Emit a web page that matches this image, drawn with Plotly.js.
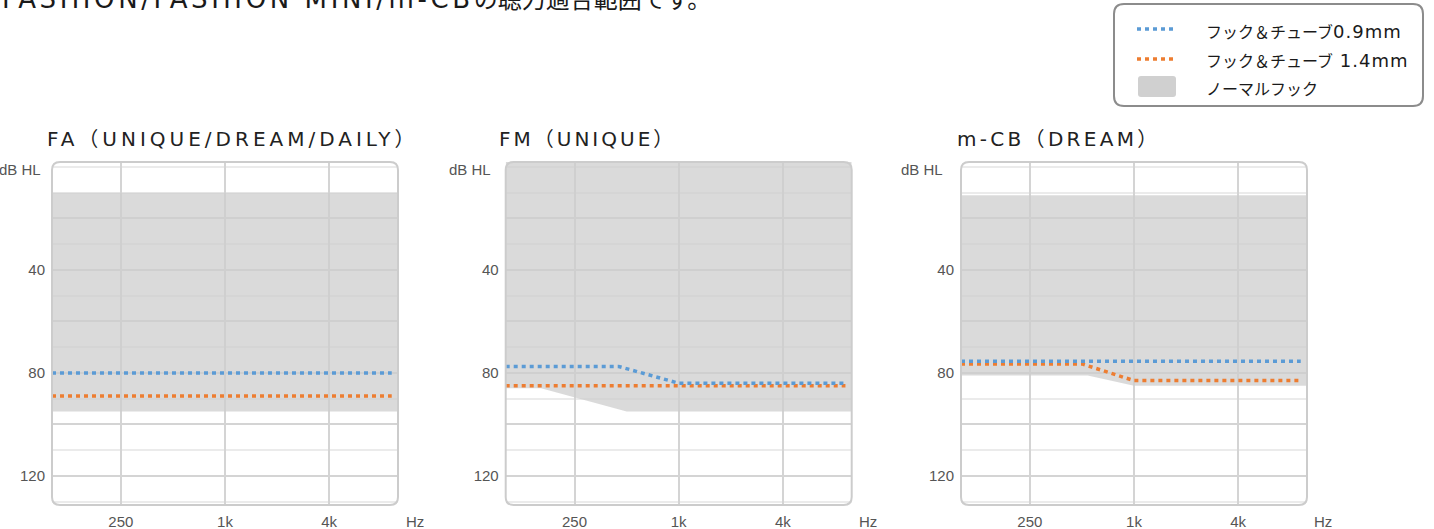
<!DOCTYPE html>
<html><head><meta charset="utf-8">
<script src="https://cdn.plot.ly/plotly-3.0.1.min.js"></script>
<style>html,body{margin:0;padding:0;background:#fff;overflow:hidden}#chart{width:1434px;height:529px}</style>
</head><body><div id="chart"></div>
<script>
// ---------------- data ----------------
const headline = 'FASHION/FASHION MINI/m-CBの聴力適合範囲です。';
const panelTitles = ['FA（UNIQUE/DREAM/DAILY）', 'FM（UNIQUE）', 'm-CB（DREAM）'];
const seriesNames = ['フック＆チューブ0.9mm', 'フック＆チューブ 1.4mm'];
const areaName = 'ノーマルフック';
const yAxisUnit = 'dB HL';
const xAxisUnit = 'Hz';
const freqTickVals = [250, 1000, 4000];
const freqTickText = ['250', '1k', '4k'];
const dbTickVals = [20, 40, 60, 80, 100, 120];
const dbTickText = ['', '40', '', '80', '', '120'];

// FA (UNIQUE/DREAM/DAILY)
const faTube09Freq = [100, 9200];
const faTube09 = [80, 80];
const faTube14Freq = [100, 9200];
const faTube14 = [89, 89];
const faAreaFreq = [100, 10000];
const faAreaTop = [10, 10];
const faAreaBottom = [95, 95];

// FM (UNIQUE)
const fmTube09Freq = [100, 450, 1000, 9200];
const fmTube09 = [77.5, 77.5, 84, 84];
const fmTube14Freq = [100, 9200];
const fmTube14 = [85, 85];
const fmAreaFreq = [100, 160, 500, 10000];
const fmAreaTop = [-5, -5, -5, -5];
const fmAreaBottom = [86, 86, 95, 95];

// m-CB (DREAM)
const mcbTube09Freq = [100, 9200];
const mcbTube09 = [75.5, 75.5];
const mcbTube14Freq = [100, 500, 1000, 9200];
const mcbTube14 = [76.5, 76.5, 83, 83];
const mcbAreaFreq = [100, 540, 1000, 10000];
const mcbAreaTop = [11, 11, 11, 11];
const mcbAreaBottom = [81, 81, 85, 85];

// ---------------- styles / layout helpers ----------------
const W = 1434, H = 529;
const px = x => x / W;
const py = y => 1 - y / H;
const BLUE = '#5b9bd5', ORANGE = '#ed7d31';
const AREA = 'rgba(205,205,205,0.75)';
const CJK = '"DejaVu Sans", "Noto Sans CJK JP", sans-serif';
const TICKFONT = {family: '"Liberation Sans", Arial, sans-serif', size: 15, color: '#555555'};
const DOT = '4px,4px';

const boxes = [[52, 398], [505.7, 851.7], [961, 1307]];
const plotTop = 162, plotBottom = 505;

function styleLatin(s, size, ls) {
  return s.replace(/[ -~]+/g, m => `<span style="font-size:${size}px;letter-spacing:${ls}px">${m}</span>`);
}
function roundRect(x0, y0, x1, y1, r) {
  const P = (x, y) => px(x) + ',' + py(y);
  return 'M' + P(x0 + r, y0) + ' L' + P(x1 - r, y0) + ' Q' + P(x1, y0) + ' ' + P(x1, y0 + r) +
    ' L' + P(x1, y1 - r) + ' Q' + P(x1, y1) + ' ' + P(x1 - r, y1) +
    ' L' + P(x0 + r, y1) + ' Q' + P(x0, y1) + ' ' + P(x0, y1 - r) +
    ' L' + P(x0, y0 + r) + ' Q' + P(x0, y0) + ' ' + P(x0 + r, y0) + ' Z';
}

const panels = [
  {area: [faAreaFreq, faAreaTop, faAreaBottom], t09: [faTube09Freq, faTube09], t14: [faTube14Freq, faTube14]},
  {area: [fmAreaFreq, fmAreaTop, fmAreaBottom], t09: [fmTube09Freq, fmTube09], t14: [fmTube14Freq, fmTube14]},
  {area: [mcbAreaFreq, mcbAreaTop, mcbAreaBottom], t09: [mcbTube09Freq, mcbTube09], t14: [mcbTube14Freq, mcbTube14]}
];

const traces = [];
const layout = {
  width: W, height: H, autosize: false,
  margin: {l: 0, r: 0, t: 0, b: 0, pad: 0},
  paper_bgcolor: '#ffffff', plot_bgcolor: '#ffffff',
  showlegend: false,
  shapes: [], annotations: []
};

panels.forEach((p, i) => {
  const sfx = i === 0 ? '' : String(i + 1);
  const xa = 'x' + sfx, ya = 'y' + sfx;
  const [af, at, ab] = p.area;
  traces.push({
    x: af.concat(af.slice().reverse()),
    y: at.concat(ab.slice().reverse()),
    xaxis: xa, yaxis: ya, mode: 'lines', fill: 'toself',
    fillcolor: AREA, line: {width: 0}, hoverinfo: 'skip'
  });
  traces.push({x: p.t14[0], y: p.t14[1], xaxis: xa, yaxis: ya, mode: 'lines',
    line: {color: ORANGE, width: 3.5, dash: DOT}});
  traces.push({x: p.t09[0], y: p.t09[1], xaxis: xa, yaxis: ya, mode: 'lines',
    line: {color: BLUE, width: 3.5, dash: DOT}});

  const [bx0, bx1] = boxes[i];
  layout['xaxis' + sfx] = {
    type: 'log', range: [2, 4], domain: [px(bx0), px(bx1)], anchor: ya,
    tickmode: 'array', tickvals: freqTickVals, ticktext: freqTickText,
    showgrid: true, gridcolor: '#d4d4d4', gridwidth: 2,
    zeroline: false, showline: false, ticks: '', tickfont: TICKFONT,
    ticklabelstandoff: 6, fixedrange: true
  };
  layout['yaxis' + sfx] = {
    range: [131.3, -1.9], domain: [py(plotBottom), py(plotTop)], anchor: xa,
    tickmode: 'array', tickvals: dbTickVals, ticktext: dbTickText,
    showgrid: true, gridcolor: '#d4d4d4', gridwidth: 2,
    minor: {tick0: 0, dtick: 10, showgrid: true, gridcolor: '#ebebeb', gridwidth: 2, ticks: ''},
    zeroline: false, showline: false, ticks: '', tickfont: TICKFONT,
    ticklabelstandoff: 6, fixedrange: true
  };
  layout.shapes.push({type: 'path', xref: 'paper', yref: 'paper', layer: 'above',
    path: roundRect(bx0, plotTop, bx1, plotBottom, 8),
    line: {color: '#cccccc', width: 2}, fillcolor: 'rgba(0,0,0,0)'});
});

// panel titles
const titleX = [45, 497, 955];
const titleLS = [4, 3, 3.3];
panelTitles.forEach((t, i) => {
  layout.annotations.push({xref: 'paper', yref: 'paper', x: px(titleX[i]), y: py(139),
    xanchor: 'left', yanchor: 'middle', showarrow: false,
    text: `<span style="letter-spacing:${titleLS[i]}px">${t}</span>`,
    font: {family: CJK, size: 20, color: '#222222'}});
});
// unit labels
const unitYRight = [43, 493, 945];
const unitXLeft = [404, 857, 1312];
for (let i = 0; i < 3; i++) {
  layout.annotations.push({xref: 'paper', yref: 'paper', x: px(unitYRight[i]), y: py(170),
    xanchor: 'right', yanchor: 'middle', showarrow: false, text: yAxisUnit, font: TICKFONT});
  layout.annotations.push({xref: 'paper', yref: 'paper', x: px(unitXLeft[i]), y: py(521),
    xanchor: 'left', yanchor: 'middle', showarrow: false, text: xAxisUnit, font: TICKFONT});
}
// headline (partly cut at top, as in the reference)
layout.annotations.push({xref: 'paper', yref: 'paper', x: px(0), y: py(-1),
  xanchor: 'left', yanchor: 'middle', showarrow: false,
  text: styleLatin(headline, 26, 3.6), font: {family: CJK, size: 24, color: '#1a1a1a'}});

// legend
layout.shapes.push({type: 'path', xref: 'paper', yref: 'paper', layer: 'above',
  path: roundRect(1114, 4, 1423, 106, 10), line: {color: '#8c8c8c', width: 2}, fillcolor: 'rgba(0,0,0,0)'});
const legendY = [29, 59, 87];
[BLUE, ORANGE].forEach((c, i) => {
  layout.shapes.push({type: 'line', xref: 'paper', yref: 'paper', x0: px(1137), x1: px(1174),
    y0: py(legendY[i]), y1: py(legendY[i]), line: {color: c, width: 3.5, dash: DOT}});
});
layout.shapes.push({type: 'path', xref: 'paper', yref: 'paper',
  path: roundRect(1138, 76, 1176, 97, 3), line: {width: 0}, fillcolor: '#d0d0d0'});
const legendTexts = seriesNames.concat([areaName]);
legendTexts.forEach((t, i) => {
  layout.annotations.push({xref: 'paper', yref: 'paper', x: px(1204), y: py(legendY[i] + 2),
    xanchor: 'left', yanchor: 'middle', showarrow: false,
    text: styleLatin(t, 18, 1), font: {family: CJK, size: 16, color: '#1a1a1a'}});
});

Plotly.newPlot('chart', traces, layout, {staticPlot: true, displayModeBar: false});
</script>
</body></html>
